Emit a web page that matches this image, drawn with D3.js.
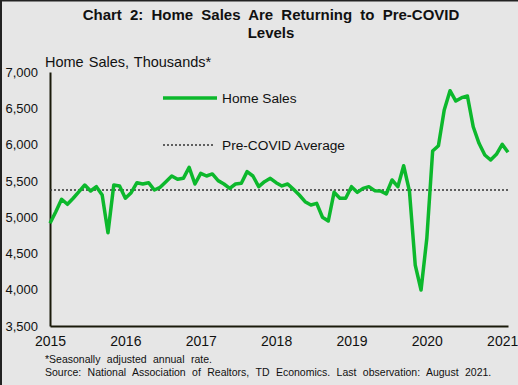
<!DOCTYPE html>
<html>
<head>
<meta charset="utf-8">
<script src="https://cdnjs.cloudflare.com/ajax/libs/d3/7.8.5/d3.min.js"></script>
<style>
  body { margin: 0; background: #e6e6e6; }
  svg { display: block; font-family: "Liberation Sans", Arial, sans-serif; }
</style>
</head>
<body>
<svg id="chart" width="518" height="385"></svg>
<script>
// monthly home sales, Jan 2015 - Aug 2021 (thousands, SAAR)
var months = d3.timeMonth.range(new Date(2015, 0, 1), new Date(2021, 8, 1))
    .map(d3.timeFormat("%Y-%m"));
var homeSales = [
  4915, 5075, 5246, 5177, 5260, 5351, 5443, 5360, 5420, 5305, 4785, 5443,
  5430, 5260, 5337, 5475, 5457, 5475, 5374, 5411, 5489, 5567, 5521, 5535,
  5686, 5457, 5604, 5567, 5595, 5503, 5457, 5397, 5457, 5466, 5627, 5567,
  5420, 5489, 5535, 5475, 5430, 5457, 5383, 5305, 5213, 5167, 5190, 4998,
  4947, 5342, 5260, 5260, 5420, 5342, 5397, 5420, 5365, 5360, 5319, 5512,
  5420, 5708, 5360, 4340, 3996, 4709, 5911, 5985, 6477, 6742, 6600, 6646,
  6669, 6246, 6017, 5856, 5787, 5865, 6003, 5893
];
var preCovidAvg = 5374;
var yTicks = [3500, 4000, 4500, 5000, 5500, 6000, 6500, 7000];
var xTickMonths = ["2015-01", "2016-02", "2017-03", "2018-04", "2019-05", "2020-06", "2021-07"];

var svg = d3.select("#chart"),
    margin = {top: 72, right: 10, bottom: 59, left: 50},
    width = +svg.attr("width"),
    height = +svg.attr("height");

var green = "#0cb82c";

var xScale = d3.scalePoint()
    .domain(months)
    .range([margin.left, width - margin.right]);

var yScale = d3.scaleLinear()
    .domain([3500, 7000])
    .range([height - margin.bottom, margin.top]);

// frame edges (top/left)
svg.append("line").attr("x1", 0).attr("x2", width).attr("y1", 0.5).attr("y2", 0.5)
    .attr("stroke", "#222").attr("stroke-width", 2);
svg.append("line").attr("x1", 1).attr("x2", 1).attr("y1", 0).attr("y2", height)
    .attr("stroke", "#222").attr("stroke-width", 2);

// title
var title = svg.append("text")
    .attr("text-anchor", "middle")
    .attr("font-weight", "bold")
    .attr("font-size", 15)
    .attr("word-spacing", 4)
    .attr("fill", "#111");
title.append("tspan").attr("x", 271).attr("y", 20).text("Chart 2: Home Sales Are Returning to Pre-COVID");
title.append("tspan").attr("x", 271).attr("y", 38).text("Levels");

svg.append("text")
    .attr("x", 45).attr("y", 67)
    .attr("font-size", 14.5)
    .attr("word-spacing", 1)
    .attr("fill", "#111")
    .text("Home Sales, Thousands*");

// y axis
var yAxis = d3.axisLeft(yScale)
    .tickValues(yTicks)
    .tickSize(0)
    .tickPadding(12)
    .tickFormat(d3.format(","));

var gy = svg.append("g")
    .attr("transform", "translate(" + margin.left + ",0)")
    .call(yAxis);
gy.select(".domain").attr("stroke", "#1a1a0a").attr("stroke-width", 2);
gy.selectAll("text").attr("font-size", 13).attr("fill", "#111")
    .attr("font-family", "Liberation Sans, Arial, sans-serif");

// x axis
var xAxis = d3.axisBottom(xScale)
    .tickValues(xTickMonths)
    .tickSize(0)
    .tickPadding(10)
    .tickFormat(function(d) { return d.slice(0, 4); });

var gx = svg.append("g")
    .attr("transform", "translate(0," + (height - margin.bottom) + ")")
    .call(xAxis);
gx.select(".domain").attr("stroke", "#1a1a0a").attr("stroke-width", 2);
gx.selectAll("text").attr("font-size", 14).attr("fill", "#111")
    .attr("font-family", "Liberation Sans, Arial, sans-serif");

// pre-covid average
svg.append("line")
    .attr("x1", xScale(months[0]))
    .attr("x2", xScale(months[months.length - 1]))
    .attr("y1", yScale(preCovidAvg))
    .attr("y2", yScale(preCovidAvg))
    .attr("stroke", "#333")
    .attr("stroke-width", 1.5)
    .attr("stroke-dasharray", "2,2");

// home sales line
var line = d3.line()
    .x(function(d, i) { return xScale(months[i]); })
    .y(function(d) { return yScale(d); });

svg.append("path")
    .datum(homeSales)
    .attr("d", line)
    .attr("fill", "none")
    .attr("stroke", green)
    .attr("stroke-width", 3.5)
    .attr("stroke-linejoin", "round");

// legend
var legend = svg.append("g");
legend.append("line").attr("x1", 163).attr("x2", 217).attr("y1", 98).attr("y2", 98)
    .attr("stroke", green).attr("stroke-width", 3.5);
legend.append("text").attr("x", 222).attr("y", 102.5).attr("font-size", 13.7).attr("fill", "#111")
    .text("Home Sales");
legend.append("line").attr("x1", 163).attr("x2", 213).attr("y1", 145).attr("y2", 145)
    .attr("stroke", "#333").attr("stroke-width", 1.5).attr("stroke-dasharray", "2,2");
legend.append("text").attr("x", 222).attr("y", 149.5).attr("font-size", 13.7).attr("fill", "#111")
    .text("Pre-COVID Average");

// footnotes
svg.append("text").attr("x", 45).attr("y", 363).attr("font-size", 10.5).attr("fill", "#111")
    .attr("word-spacing", 3.5)
    .text("*Seasonally adjusted annual rate.");
svg.append("text").attr("x", 45).attr("y", 376).attr("font-size", 10.5).attr("fill", "#111")
    .attr("word-spacing", 3.5)
    .text("Source: National Association of Realtors, TD Economics. Last observation: August 2021.");
</script>
</body>
</html>
